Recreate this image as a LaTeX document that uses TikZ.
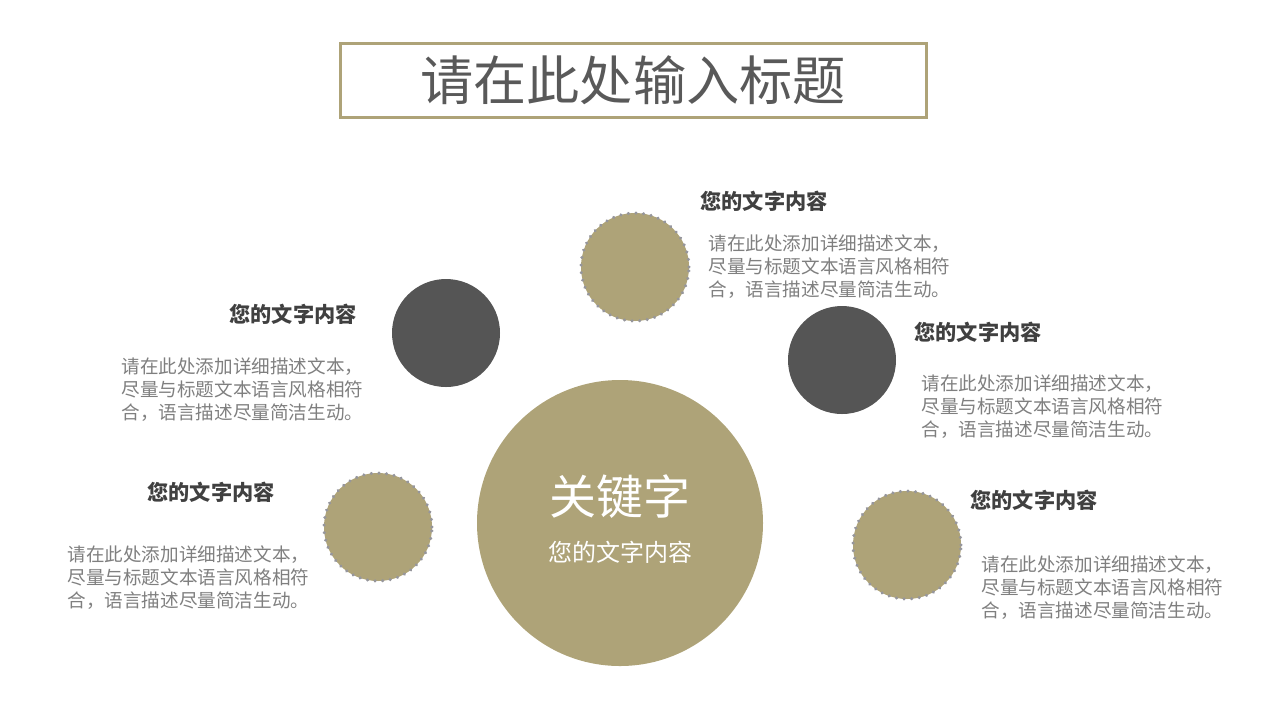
\documentclass[tikz,border=0pt]{standalone}
\usepackage{fontspec}
\newfontfamily\cjk{Noto Sans CJK SC}
\definecolor{tan}{RGB}{174,163,120}
\definecolor{darkc}{RGB}{85,85,85}
\definecolor{titlegray}{RGB}{89,89,89}
\definecolor{headgray}{RGB}{64,64,64}
\definecolor{bodygray}{RGB}{127,127,127}
\definecolor{dotgray}{RGB}{150,150,156}
\tikzset{
  bigcirc/.style={circle, fill=tan, minimum size=143pt, inner sep=0},
  darkcirc/.style={circle, fill=darkc, minimum size=54pt, inner sep=0},
  dotcirc/.style={circle, fill=tan, draw=dotgray, line width=1.7pt, dash pattern=on 0.01pt off 3.8pt, line cap=round, minimum size=54pt, inner sep=0},
  head/.style={font=\cjk\bfseries\fontsize{10.6}{12}\selectfont, text=headgray, inner sep=0},
  body/.style={font=\cjk\fontsize{9.3}{11.5}\selectfont, text=bodygray, align=left, inner sep=0, anchor=north west},
}
\newcommand{\bodytext}{请在此处添加详细描述文本，\\尽量与标题文本语言风格相符\\合，语言描述尽量简洁生动。}
\begin{document}
\begin{tikzpicture}[x=0.5pt,y=-0.5pt]
\useasboundingbox (0,0) rectangle (1280,720);
% title
\node[draw=tan, line width=1.5pt, minimum width=293pt, minimum height=37pt, inner sep=0] (titlebox) at (633,80) {};
\node[font=\cjk\fontsize{26.6}{30}\selectfont, text=titlegray, inner sep=0] (title) at (633,80) {请在此处输入标题};
% circles
\node[bigcirc] (center) at (620,523) {};
\node[font=\cjk\fontsize{23.5}{26}\selectfont, text=white, inner sep=0] (kw) at (620,497) {关键字};
\node[font=\cjk\fontsize{12}{14}\selectfont, text=white, inner sep=0] (kwsub) at (620,552) {您的文字内容};
\node[dotcirc] (c1) at (635,267) {};
\node[dotcirc] (c2) at (378,527) {};
\node[dotcirc] (c3) at (907,545) {};
\node[darkcirc] (d1) at (446,333) {};
\node[darkcirc] (d2) at (842,360) {};
% texts
\node[head, anchor=west] (h1) at (700,201) {您的文字内容};
\node[body] (b1) at (708,234) {\bodytext};
\node[head, anchor=east] (h2) at (357,314) {您的文字内容};
\node[body] (b2) at (121,357) {\bodytext};
\node[head, anchor=west] (h3) at (914,332) {您的文字内容};
\node[body] (b3) at (921,374) {\bodytext};
\node[head, anchor=east] (h4) at (275,492) {您的文字内容};
\node[body] (b4) at (67,545) {\bodytext};
\node[head, anchor=west] (h5) at (970,500) {您的文字内容};
\node[body] (b5) at (981,555) {\bodytext};
\end{tikzpicture}
\end{document}
